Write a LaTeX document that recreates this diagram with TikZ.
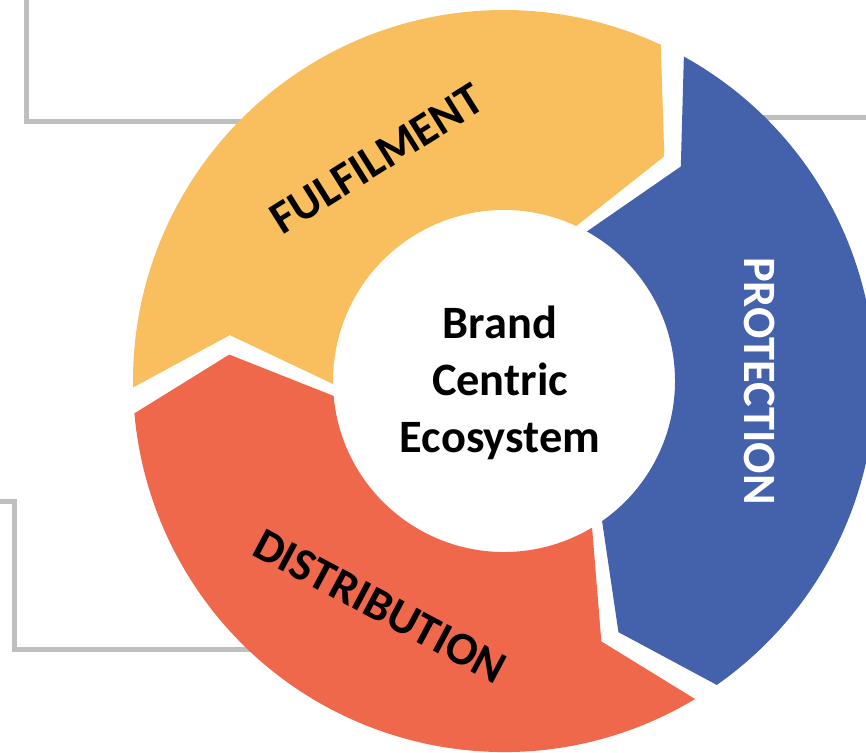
\documentclass[tikz,border=0pt]{standalone}
\usepackage{fontspec}
\setmainfont{Carlito}
\usepackage{tikz}

\definecolor{fulfilcol}{RGB}{249,190,94}
\definecolor{protectcol}{RGB}{68,98,172}
\definecolor{distribcol}{RGB}{239,104,76}
\definecolor{framegray}{RGB}{191,191,191}

\tikzset{
  frameline/.style={draw=framegray, line width=0.05cm},
  ringtext/.style={font=\fontsize{13.2}{16.2}\selectfont\bfseries, inner sep=0pt}
}

\begin{document}
\begin{tikzpicture}

\useasboundingbox (-5.04,-3.71) rectangle (3.62,3.81);

% gray frame lines, they run under the ring
\draw[frameline] (-4.77,3.9) -- (-4.77,2.6) -- (-2.5,2.6);
\draw[frameline] (2.5,2.64) -- (3.7,2.64);
\draw[frameline] (-5.1,-1.2) -- (-4.89,-1.2) -- (-4.89,-2.68) -- (-2.5,-2.68);

% three arrow segments of 116 degrees each, clockwise
% outer arc, head tip, inner arc back, tail notch
\foreach \t/\col in {181/fulfilcol, 61/protectcol, -59/distribcol} {
\fill[\col] (\t:3.71) arc[start angle=\t, end angle=\t-116, radius=3.71]
  -- ({\t-126.5}:2.76) -- ({\t-116}:1.71)
  arc[start angle=\t-116, end angle=\t, radius=1.71]
  -- ({\t-10.5}:2.78) -- cycle;
}

% labels
\node (hub) at (-0.04,-0.02) [ringtext, align=center] {Brand\\Centric\\Ecosystem};
\node (fulfil) at (-1.27,2.22) [ringtext, rotate=32] {FULFILMENT};
\node (protect) at (2.56,0) [ringtext, white, rotate=-90] {PROTECTION};
\node (distrib) at (-1.24,-2.25) [ringtext, rotate=-28] {DISTRIBUTION};

\end{tikzpicture}
\end{document}
